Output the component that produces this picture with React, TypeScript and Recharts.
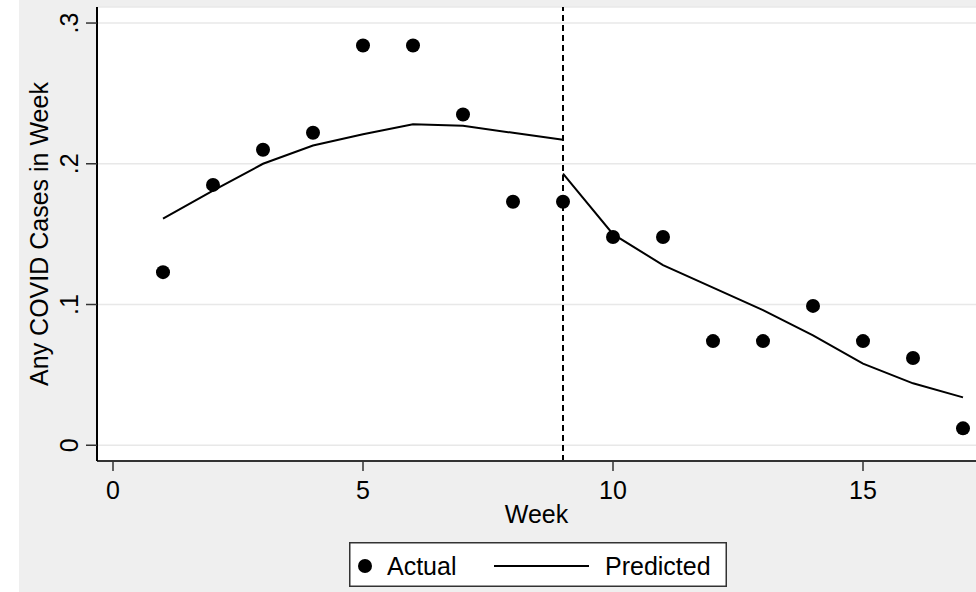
import React from 'react';
import {
    ComposedChart,
    Scatter,
    Line,
    XAxis,
    YAxis,
    CartesianGrid,
    ReferenceLine,
    Legend,
} from 'recharts';

const weeks = [1, 2, 3, 4, 5, 6, 7, 8, 9, 10, 11, 12, 13, 14, 15, 16, 17];
const actual = [0.123, 0.185, 0.21, 0.222, 0.284, 0.284, 0.235, 0.173, 0.173, 0.148, 0.148, 0.074, 0.074, 0.099, 0.074, 0.062, 0.012];
// predicted before the break (weeks 1-9) and after it (weeks 9-17)
const predictedPre = [0.161, 0.181, 0.2, 0.213, 0.221, 0.228, 0.227, 0.222, 0.217];
const predictedPost = [0.193, 0.15, 0.128, 0.112, 0.096, 0.078, 0.058, 0.044, 0.034];
const breakWeek = 9;
const xTicks = [0, 5, 10, 15];
const yTicks = [0, 0.1, 0.2, 0.3];

const data = weeks.map((week, i) => ({
    week,
    actual: actual[i],
    predPre: week <= breakWeek ? predictedPre[i] : null,
    predPost: week >= breakWeek ? predictedPost[i - (breakWeek - 1)] : null,
}));

const FONT = '"Liberation Sans", Arial, sans-serif';
const FS = 25;

const fmtY = (v: number) => (v === 0 ? '0' : String(v).replace(/^0/, ''));

const YTick = (props: any) => {
    const { x, y, payload } = props;
    return (
        <text
            x={x}
            y={y}
            transform={`rotate(-90 ${x} ${y})`}
            textAnchor="middle"
            fontSize={FS}
            fontFamily={FONT}
            fill="#000"
        >
            {fmtY(payload.value)}
        </text>
    );
};

const Dot = (props: any) => <circle cx={props.cx} cy={props.cy} r={7} fill="#000" />;

const LegendBox = () => (
    <svg width={378} height={45} style={{ display: 'block' }}>
        <rect x={0.75} y={0.75} width={376.5} height={43.5} fill="#fff" stroke="#333" strokeWidth={1.5} />
        <circle cx={16} cy={24} r={7} fill="#000" />
        <text x={38} y={33} fontSize={FS} fontFamily={FONT} fill="#000">Actual</text>
        <line x1={145} x2={240} y1={24} y2={24} stroke="#000" strokeWidth={2} />
        <text x={256} y={33} fontSize={FS} fontFamily={FONT} fill="#000">Predicted</text>
    </svg>
);

export default function App() {
    return (
        <div style={{ position: 'absolute', left: 0, top: 0, width: 976, height: 592, background: '#fff', overflow: 'hidden' }}>
            <div style={{ position: 'absolute', left: 19, top: 0, width: 957, height: 592, background: '#efefef' }} />
            <ComposedChart
                width={976}
                height={592}
                data={data}
                margin={{ top: 7, right: 0, bottom: 0, left: 0 }}
                style={{ position: 'absolute', left: 0, top: 0 }}
            >
                <CartesianGrid vertical={false} stroke="#e8e8e8" strokeWidth={1.5} fill="#fff" />
                <XAxis
                    dataKey="week"
                    type="number"
                    domain={[-0.32, 17.26]}
                    ticks={xTicks}
                    allowDataOverflow
                    height={131}
                    axisLine={{ stroke: '#333', strokeWidth: 2 }}
                    tickLine={{ stroke: '#333', strokeWidth: 1.5 }}
                    tickSize={10}
                    tickMargin={10}
                    tick={{ fill: '#000', fontSize: FS, fontFamily: FONT }}
                    label={{
                        content: (p: any) => {
                            const vb = p.viewBox;
                            return (
                                <text x={vb.x + vb.width / 2} y={vb.y + 62} textAnchor="middle" fontSize={FS} fontFamily={FONT} fill="#000">
                                    Week
                                </text>
                            );
                        },
                    }}
                />
                <YAxis
                    type="number"
                    domain={[-0.0112, 0.3114]}
                    ticks={yTicks}
                    allowDataOverflow
                    width={97}
                    axisLine={{ stroke: '#000', strokeWidth: 2 }}
                    tickLine={{ stroke: '#333', strokeWidth: 1.5 }}
                    tickSize={11}
                    tickMargin={8}
                    tick={<YTick />}
                    label={{
                        content: (p: any) => {
                            const vb = p.viewBox;
                            const cy = vb.y + vb.height / 2;
                            return (
                                <text x={48} y={cy} transform={`rotate(-90 48 ${cy})`} textAnchor="middle" fontSize={FS} fontFamily={FONT} fill="#000">
                                    Any COVID Cases in Week
                                </text>
                            );
                        },
                    }}
                />
                <ReferenceLine x={breakWeek} stroke="#000" strokeWidth={2} strokeDasharray="6 4" />
                <Line type="linear" dataKey="predPre" stroke="#000" strokeWidth={2} dot={false} connectNulls={false} isAnimationActive={false} />
                <Line type="linear" dataKey="predPost" stroke="#000" strokeWidth={2} dot={false} connectNulls={false} isAnimationActive={false} />
                <Scatter dataKey="actual" fill="#000" shape={<Dot />} isAnimationActive={false} />
                <Legend
                    layout="horizontal"
                    align="center"
                    verticalAlign="middle"
                    wrapperStyle={{ left: 349, top: 542, width: 378, height: 45 }}
                    content={() => <LegendBox />}
                />
            </ComposedChart>
        </div>
    );
}
